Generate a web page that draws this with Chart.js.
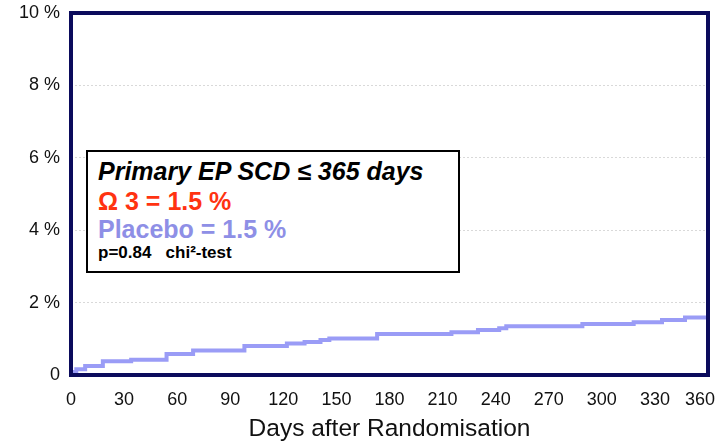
<!DOCTYPE html>
<html>
<head>
<meta charset="utf-8">
<script src="https://cdn.jsdelivr.net/npm/chart.js@4"></script>
<style>
    html, body { margin: 0; padding: 0; background: #fff; }
    #wrap { position: relative; width: 718px; height: 448px; }
    #note {
        position: absolute; left: 86px; top: 150px; width: 374px; height: 123px;
        border: 2px solid #000; background: #fff; box-sizing: border-box;
        font-family: 'Liberation Sans', Arial, sans-serif; font-weight: bold;
        padding: 4px 0 0 10px;
    }
    #note div { white-space: nowrap; }
    .l1 { font-size: 25px; font-style: italic; color: #000; line-height: 30px; }
    .l2 { font-size: 25px; color: #ff3311; line-height: 30px; }
    .l3 { font-size: 25px; color: #8e8fe6; line-height: 26px; }
    .l4 { font-size: 17px; color: #000; line-height: 22px; }
</style>
</head>
<body>
<div id="wrap">
    <canvas id="km" width="718" height="448"></canvas>
    <div id="note">
        <div class="l1">Primary EP SCD ≤ 365 days</div>
        <div class="l2">Ω 3 = 1.5 %</div>
        <div class="l3">Placebo = 1.5 %</div>
        <div class="l4">p=0.84&nbsp;&nbsp;&nbsp;chi²-test</div>
    </div>
</div>
<script>
// --- chart data ---
const days = [0, 3, 8, 18, 34, 54, 69, 98, 122, 132, 141, 146, 173, 215, 230, 242, 246, 289, 318, 334, 347, 355, 360];
const placeboPct = [0.03, 0.08, 0.16, 0.25, 0.38, 0.42, 0.58, 0.68, 0.80, 0.87, 0.91, 0.97, 1.01, 1.13, 1.18, 1.24, 1.29, 1.35, 1.41, 1.46, 1.52, 1.59, 1.59];
const yTicks = [0, 2, 4, 6, 8, 10];
const xTicks = [0, 30, 60, 90, 120, 150, 180, 210, 240, 270, 300, 330, 360];
const xTitle = 'Days after Randomisation';

const NAVY = '#0b0b5c';

// frame round the plot area
const framePlugin = {
    id: 'frame',
    afterDatasetsDraw(chart) {
        const { ctx, chartArea: a } = chart;
        ctx.save();
        ctx.strokeStyle = NAVY;
        ctx.lineWidth = 4;
        ctx.strokeRect(a.left, a.top, a.right - a.left, a.bottom - a.top);
        ctx.restore();
    }
};

// keep the last x label ("360") inside the canvas, like the original
const lastLabelPlugin = {
    id: 'lastLabel',
    beforeDraw(chart) {
        const items = chart.scales.x.getLabelItems();
        const last = items[items.length - 1];
        if (last) {
            last.options.textAlign = 'right';
            last.options.translation[0] = chart.width - 3;
        }
    }
};

new Chart(document.getElementById('km').getContext('2d'), {
    type: 'line',
    data: {
        datasets: [{
            label: 'Placebo',
            data: days.map((d, i) => ({ x: d, y: placeboPct[i] })),
            borderColor: '#9a9cf6',
            borderWidth: 4,
            pointRadius: 0,
            stepped: 'after',
            fill: false
        }]
    },
    options: {
        responsive: false,
        animation: false,
        layout: { padding: { top: 13, right: 10, left: 0, bottom: 0 } },
        plugins: { legend: { display: false }, tooltip: { enabled: false } },
        scales: {
            x: {
                type: 'linear', min: 0, max: 360,
                afterBuildTicks: (s) => { s.ticks = xTicks.map(v => ({ value: v })); },
                afterFit: (s) => { s.height = 73; s.paddingLeft = 0; s.paddingRight = 0; },
                grid: { display: false, drawTicks: false },
                border: { display: false },
                ticks: {
                    color: '#111', padding: 14,
                    font: { family: "'Liberation Sans', Arial", size: 18 },
                    maxRotation: 0, autoSkip: false
                },
                title: {
                    display: true, text: xTitle, color: '#111', padding: { top: 4, bottom: 4 },
                    font: { family: "'Liberation Sans', Arial", size: 24.5 }
                }
            },
            y: {
                min: 0, max: 10,
                afterBuildTicks: (s) => { s.ticks = yTicks.map(v => ({ value: v })); },
                afterFit: (s) => { s.width = 71; s.paddingTop = 0; s.paddingBottom = 0; },
                grid: { color: '#d9d9d9', drawTicks: false },
                border: { display: false, dash: [2, 2] },
                ticks: {
                    color: '#111', padding: 11,
                    font: { family: "'Liberation Sans', Arial", size: 18 },
                    callback: (v) => v === 0 ? '0' : v + ' %'
                }
            }
        }
    },
    plugins: [framePlugin, lastLabelPlugin]
});
</script>
</body>
</html>
